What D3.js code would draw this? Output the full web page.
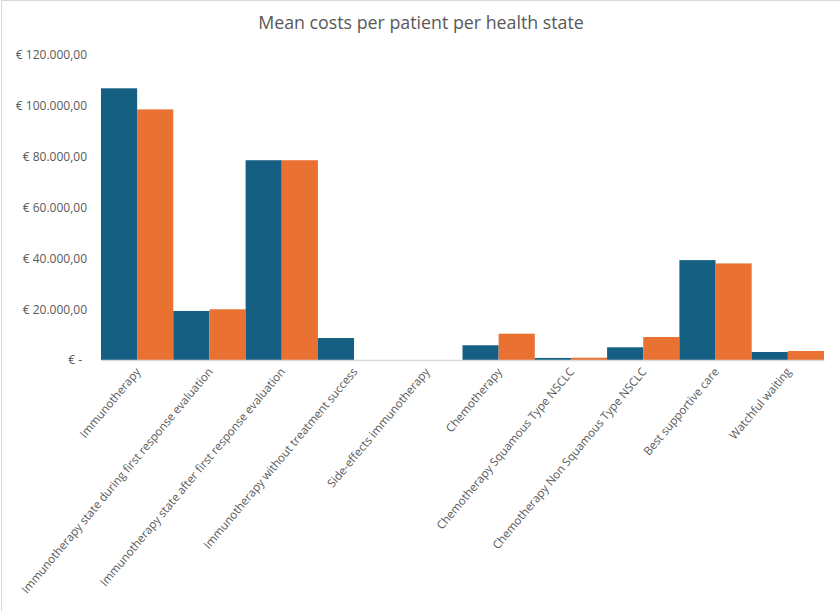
<!DOCTYPE html>
<html>
<head>
<meta charset="utf-8">
<script src="https://cdn.jsdelivr.net/npm/d3@7"></script>
<style>
  html, body { margin: 0; padding: 0; background: #fff; }
  svg { display: block; }
</style>
</head>
<body>
<svg id="chart" width="840" height="611"></svg>
<script>
const categories = [
  "Immunotherapy",
  "Immunotherapy state during first response evaluation",
  "Immunotherapy state after first response evaluation",
  "Immunotherapy without treatment success",
  "Side-effects immunotherapy",
  "Chemotherapy",
  "Chemotherapy Squamous Type NSCLC",
  "Chemotherapy Non Squamous Type NSCLC",
  "Best supportive care",
  "Watchful waiting"
];
const seriesA = [106900, 19300, 78600, 8650, 0, 5800, 800, 5000, 39300, 3150];
const seriesB = [98600, 19950, 78600, 0, 0, 10350, 900, 9050, 38000, 3550];
const yTicks = [0, 20000, 40000, 60000, 80000, 100000, 120000];
const title = "Mean costs per patient per health state";
const colors = ["#156082", "#E97132"];

const svg = d3.select("#chart");
const font = "'Open Sans', 'Liberation Sans', sans-serif";
const textColor = "#595959";

// frame
svg.append("rect").attr("x", 1.5).attr("y", 0.5).attr("width", 845).attr("height", 620)
  .attr("fill", "none").attr("stroke", "#d9d9d9").attr("stroke-width", 1);

const plot = { left: 101, right: 824, top: 55, bottom: 360 };

const x = d3.scaleBand().domain(categories).range([plot.left, plot.right]).paddingInner(0).paddingOuter(0);
const xs = d3.scaleBand().domain([0, 1]).range([0, x.bandwidth()]).padding(0);
const y = d3.scaleLinear().domain([0, 120000]).range([plot.bottom, plot.top]);

// title
svg.append("text").attr("x", 421).attr("y", 29).attr("text-anchor", "middle")
  .attr("font-family", font).attr("font-size", 17.8).attr("fill", textColor).text(title);

// bars
const data = categories.map((c, i) => ({ c, vals: [seriesA[i], seriesB[i]] }));
const g = svg.append("g");
g.selectAll("g.cat").data(data).join("g").attr("class", "cat")
  .attr("transform", d => `translate(${x(d.c)},0)`)
  .selectAll("rect").data(d => d.vals.map((v, k) => ({ v, k })))
  .join("rect")
  .attr("x", d => xs(d.k))
  .attr("width", xs.bandwidth())
  .attr("y", d => y(d.v))
  .attr("height", d => y(0) - y(d.v))
  .attr("fill", d => colors[d.k]);

// y axis (labels only)
const fmt = v => {
  if (v === 0) return "€ -";
  const s = d3.format(",.2f")(v).replace(/,/g, "#").replace(".", ",").replace(/#/g, ".");
  return "€ " + s;
};
const yAxis = d3.axisLeft(y).tickValues(yTicks).tickFormat(fmt).tickSize(0).tickPadding(0);
const ya = svg.append("g").attr("transform", `translate(87,0)`).call(yAxis);
ya.select(".domain").remove();
ya.selectAll("text").attr("font-family", font).attr("font-size", 12).attr("fill", textColor)
  .attr("dx", d => d === 0 ? -5 : 0);

// x axis
const xAxis = d3.axisBottom(x).tickSize(0).tickPadding(0);
const xa = svg.append("g").attr("transform", `translate(0,${plot.bottom})`).call(xAxis);
xa.select(".domain").attr("stroke", "#d9d9d9").attr("stroke-width", 1.3);
xa.selectAll("text")
  .attr("font-family", font).attr("font-size", 11.5).attr("fill", textColor)
  .attr("text-anchor", "end")
  .attr("dy", null)
  .attr("transform", "translate(4,12) rotate(-50)");
</script>
</body>
</html>
